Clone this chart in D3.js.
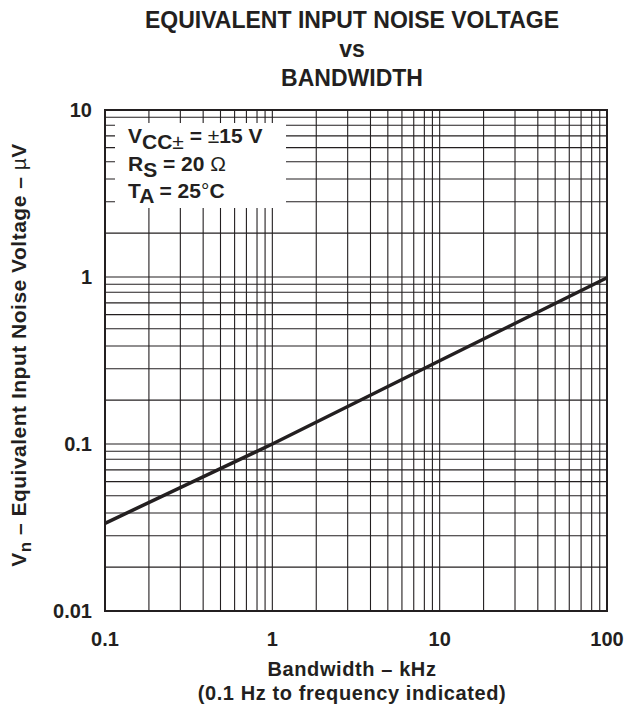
<!DOCTYPE html>
<html>
<head>
<meta charset="utf-8">
<script src="https://cdn.jsdelivr.net/npm/d3@7"></script>
<style>
  html, body { margin: 0; padding: 0; background: #fff; }
  svg text { font-family: "Liberation Sans", Arial, Helvetica, sans-serif; font-weight: bold; fill: #231f20; }
</style>
</head>
<body>
<svg id="chart" width="626" height="705"></svg>
<script>
// ---- data ----
const bandwidthKHz = [0.1, 1, 10, 100];
const noiseUV = [0.0335, 0.1, 0.315, 0.99];
const xTickValues = [0.1, 1, 10, 100];
const xTickLabels = ["0.1", "1", "10", "100"];
const yTickValues = [0.01, 0.1, 1, 10];
const yTickLabels = ["0.01", "0.1", "1", "10"];
// minor grid multipliers within each decade, as printed on the chart paper
const gridMultipliers = [1, 1.83, 2.82, 3.86, 4.9, 5.95, 7.0, 8.1, 9.05];
const titleLines = ["EQUIVALENT INPUT NOISE VOLTAGE", "vs", "BANDWIDTH"];
const xLabelLines = ["Bandwidth – kHz", "(0.1 Hz to frequency indicated)"];

const svg = d3.select("#chart");
const L = 105, R = 607, T = 110, B = 611;
const ink = "#231f20";

const x = d3.scaleLog().domain([0.1, 100]).range([L, R]);
const y = d3.scaleLog().domain([0.01, 10]).range([B, T]);

function gridVals(lo, hi) {
  const out = [];
  for (let d = lo; d < hi * 0.999; d *= 10) gridMultipliers.forEach(k => out.push(d * k));
  out.push(hi);
  return out;
}
const gx = gridVals(0.1, 100), gy = gridVals(0.01, 10);

const grid = svg.append("g").attr("stroke", ink).attr("stroke-width", 1.1);
grid.selectAll("line.v").data(gx).join("line")
  .attr("x1", d => x(d)).attr("x2", d => x(d)).attr("y1", T).attr("y2", B);
grid.selectAll("line.h").data(gy).join("line")
  .attr("y1", d => y(d)).attr("y2", d => y(d)).attr("x1", L).attr("x2", R);

// legend box masking grid
svg.append("rect").attr("x", 115).attr("y", 123).attr("width", 171).attr("height", 85).attr("fill", "#fff");

// curve
const line = d3.line().x((d, i) => x(bandwidthKHz[i])).y(d => y(d));
svg.append("path").datum(noiseUV).attr("d", line)
  .attr("fill", "none").attr("stroke", ink).attr("stroke-width", 3.5);

// border
svg.append("rect").attr("x", L).attr("y", T).attr("width", R - L).attr("height", B - T)
  .attr("fill", "none").attr("stroke", ink).attr("stroke-width", 2);

// tick labels
svg.selectAll("text.xt").data(xTickValues).join("text")
  .attr("x", d => x(d)).attr("y", 646).attr("text-anchor", "middle")
  .style("font-size", "20px").text((d, i) => xTickLabels[i]);
svg.selectAll("text.yt").data(yTickValues).join("text")
  .attr("x", 92).attr("y", d => y(d) + 7).attr("text-anchor", "end")
  .style("font-size", "20px").text((d, i) => yTickLabels[i]);

// title
svg.selectAll("text.title").data(titleLines).join("text")
  .attr("x", 352).attr("y", (d, i) => 28 + i * 29).attr("text-anchor", "middle")
  .style("font-size", "23px").text(d => d);

// x label
svg.selectAll("text.xl").data(xLabelLines).join("text")
  .attr("x", 352).attr("y", (d, i) => 676 + i * 24).attr("text-anchor", "middle")
  .style("font-size", "20px").style("letter-spacing", "0.6px").text(d => d);

// y label
const yl = svg.append("text").attr("transform", "translate(26,355) rotate(-90)")
  .attr("text-anchor", "middle").style("font-size", "21px").style("letter-spacing", "0.5px");
yl.append("tspan").text("V");
yl.append("tspan").attr("dy", 5).style("font-size", "17px").text("n");
yl.append("tspan").attr("dy", -5).text(" – Equivalent Input Noise Voltage – ");
yl.append("tspan").style("font-weight", "normal").text("µ");
yl.append("tspan").text("V");

// legend
const lg = svg.append("g").style("font-size", "21px");
const l1 = lg.append("text").attr("x", 128).attr("y", 143);
l1.append("tspan").text("V");
l1.append("tspan").attr("dy", 6).text("CC");
l1.append("tspan").style("font-weight", "normal").text("±");
l1.append("tspan").attr("dy", -6).text(" = ");
l1.append("tspan").style("font-weight", "normal").text("±");
l1.append("tspan").text("15 V");
const l2 = lg.append("text").attr("x", 128).attr("y", 171);
l2.append("tspan").text("R");
l2.append("tspan").attr("dy", 6).text("S");
l2.append("tspan").attr("dy", -6).text(" = 20 ");
l2.append("tspan").style("font-weight", "normal").text("Ω");
const l3 = lg.append("text").attr("x", 128).attr("y", 198);
l3.append("tspan").text("T");
l3.append("tspan").attr("dy", 5).text("A");
l3.append("tspan").attr("dy", -5).text(" = 25");
l3.append("tspan").style("font-weight", "normal").text("°");
l3.append("tspan").text("C");
</script>
</body>
</html>
